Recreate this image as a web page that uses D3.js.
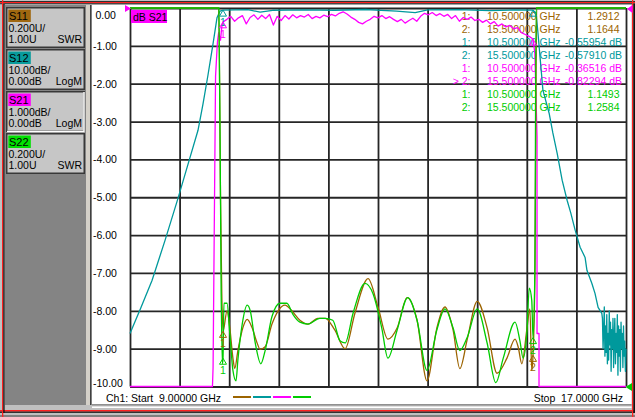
<!DOCTYPE html>
<html><head><meta charset="utf-8">
<script src="https://cdn.jsdelivr.net/npm/d3@7"></script>
<style>
html,body{margin:0;padding:0;background:#c0c0c0;overflow:hidden}
svg{display:block;font-family:"Liberation Sans",Arial,sans-serif;}
</style></head>
<body><svg id="c" width="635" height="417"></svg>
<script>
// ---------------- data ----------------
const startGHz = 9, stopGHz = 17;
const xGrid = [9, 9.8, 10.6, 11.4, 12.2, 13.0, 13.8, 14.6, 15.4, 16.2, 17];
const yTicks = [0, -1, -2, -3, -4, -5, -6, -7, -8, -9, -10];
const yTickLabels = ["0.00", "-1.00", "-2.00", "-3.00", "-4.00", "-5.00", "-6.00", "-7.00", "-8.00", "-9.00", "-10.00"];

const channels = ["S11", "S12", "S21", "S22"];
const channelScale = ["0.200U/", "10.00dB/", "1.000dB/", "0.200U/"];
const channelRef = ["1.00U", "0.00dB", "0.00dB", "1.00U"];
const channelFormat = ["SWR", "LogM", "LogM", "SWR"];

// S11 (SWR)  [GHz, SWR]
const s11 = [[9.0,4],[10.43,4],[10.46,2.0],[10.48,1.5],[10.5,1.291],[10.565,1.40],[10.61,1.31],[10.66,1.15],
  [10.69,1.095],[10.74,1.19],[10.82,1.31],[10.89,1.355],[10.97,1.31],[11.05,1.23],[11.10,1.196],[11.18,1.21],
  [11.29,1.33],[11.39,1.40],[11.50,1.43],[11.61,1.40],[11.74,1.35],[11.87,1.33],[12.03,1.36],[12.15,1.36],
  [12.30,1.30],[12.47,1.20],[12.63,1.39],[12.84,1.57],[13.00,1.42],[13.16,1.25],[13.31,1.31],[13.47,1.47],
  [13.63,1.35],[13.79,1.03],[13.95,1.31],[14.08,1.42],[14.21,1.30],[14.32,1.095],[14.44,1.25],[14.60,1.45],
  [14.76,1.31],[14.92,1.07],[15.08,1.15],[15.21,1.25],[15.26,1.21],[15.32,1.12],[15.40,1.30],[15.45,1.41],
  [15.48,1.085],[15.50,1.164],[15.53,1.58],[15.56,4],[17.0,4]];

// S12 (dB, 10 dB/div)
const s12 = [[9.00,-86.0],[9.177,-79.1],[9.355,-72.0],[9.565,-61.4],[9.774,-50.3],[9.935,-41.3],[10.097,-32.3],
  [10.177,-25.4],[10.258,-17.7],[10.339,-9.5],[10.403,-2.6],[10.452,-0.8],[10.5,-0.56],[10.9,-0.45],[11.1,-1.1],
  [11.3,-0.6],[11.8,-0.5],[12.3,-0.6],[12.8,-0.4],[13.3,-0.8],[13.6,-1.2],[13.8,-0.5],[14.3,-0.45],[14.8,-0.7],
  [15.2,-0.5],[15.5,-0.58],[15.55,-1.3],[15.58,-6.6],[15.66,-21.7],[15.76,-27.8],[15.82,-33],[15.89,-38.4],
  [15.97,-45.5],[16.05,-50.8],[16.11,-54.2],[16.18,-58.7],[16.26,-63.2],[16.34,-65.9],[16.37,-69.3],[16.45,-72.8],
  [16.50,-75.4],[16.55,-79.1],[16.61,-80.7],[16.62,-82],[16.63,-90],[16.64,-85],[16.65,-79],[16.66,-92],[16.67,-84],
  [16.68,-91],[16.69,-81],[16.70,-94],[16.71,-86],[16.72,-93],[16.73,-80],[16.74,-89],[16.75,-83],[16.76,-96],
  [16.77,-85],[16.78,-90],[16.79,-82],[16.80,-95],[16.81,-87],[16.82,-82],[16.83,-94],[16.84,-86],[16.85,-91],
  [16.86,-81],[16.87,-97],[16.88,-84],[16.89,-92],[16.90,-85],[16.91,-96],[16.92,-83],[16.93,-90],[16.94,-86],
  [16.95,-95],[16.96,-84],[16.97,-92],[16.98,-88],[16.99,-96],[17.00,-90]];

// S21 (dB, 1 dB/div)
const s21 = [[9.0,-12],[10.33,-12],[10.34,-9.5],[10.38,-1.8],[10.41,-0.9],[10.43,-0.65],[10.46,-0.85],[10.48,-0.5],
  [10.5,-0.37],[10.5625,-0.30],[10.625,-0.22],[10.6875,-0.35],[10.75,-0.26],[10.8125,-0.20],[10.875,-0.42],
  [10.9375,-0.25],[11.0,-0.18],[11.0625,-0.30],[11.125,-0.19],[11.1875,-0.28],[11.25,-0.17],[11.3125,-0.45],
  [11.375,-0.22],[11.4375,-0.33],[11.5,-0.20],[11.5625,-0.29],[11.625,-0.18],[11.6875,-0.26],[11.75,-0.20],
  [11.8125,-0.24],[11.875,-0.17],[11.9375,-0.28],[12.0,-0.22],[12.0625,-0.26],[12.125,-0.19],[12.1875,-0.23],
  [12.25,-0.17],[12.3125,-0.21],[12.375,-0.14],[12.4375,-0.10],[12.5,-0.16],[12.5625,-0.24],[12.625,-0.30],
  [12.6875,-0.38],[12.75,-0.42],[12.8125,-0.35],[12.875,-0.30],[12.9375,-0.22],[13.0,-0.26],[13.0625,-0.20],
  [13.125,-0.28],[13.1875,-0.23],[13.25,-0.30],[13.3125,-0.36],[13.375,-0.30],[13.4375,-0.40],[13.5,-0.33],
  [13.5625,-0.27],[13.625,-0.35],[13.6875,-0.22],[13.75,-0.14],[13.8125,-0.18],[13.875,-0.12],[13.9375,-0.20],
  [14.0,-0.15],[14.0625,-0.22],[14.125,-0.17],[14.1875,-0.28],[14.25,-0.20],[14.3125,-0.35],[14.375,-0.25],
  [14.4375,-0.30],[14.5,-0.24],[14.5625,-0.33],[14.625,-0.30],[14.6875,-0.38],[14.75,-0.32],[14.8125,-0.42],
  [14.875,-0.36],[14.9375,-0.48],[15.0,-0.42],[15.0625,-0.50],[15.125,-0.46],[15.1875,-0.55],[15.25,-0.52],
  [15.3125,-0.65],[15.375,-0.70],[15.4375,-0.75],[15.5,-0.82],[15.53,-1.2],[15.565,-3.4],[15.565,-8.6],
  [15.597,-8.6],[15.597,-12],[17.0,-12]];

// S22 (SWR)
const s22 = [[9.0,4],[10.435,4],[10.47,1.5],[10.49,1.12],[10.5,1.149],[10.515,1.44],[10.565,1.44],[10.61,1.28],
  [10.66,1.085],[10.71,1.03],[10.74,1.14],[10.81,1.33],[10.89,1.43],[10.94,1.40],[11.02,1.23],[11.11,1.12],
  [11.18,1.19],[11.29,1.37],[11.42,1.44],[11.53,1.44],[11.63,1.38],[11.74,1.34],[11.87,1.33],[12.06,1.36],
  [12.15,1.36],[12.27,1.35],[12.39,1.24],[12.47,1.23],[12.60,1.39],[12.79,1.545],[12.92,1.49],[13.06,1.31],
  [13.16,1.15],[13.31,1.30],[13.48,1.47],[13.63,1.35],[13.79,1.085],[13.95,1.30],[14.08,1.41],[14.21,1.31],
  [14.32,1.19],[14.44,1.26],[14.60,1.41],[14.76,1.23],[14.90,1.02],[15.02,1.15],[15.21,1.34],[15.29,1.24],
  [15.34,1.15],[15.40,1.28],[15.44,1.52],[15.48,1.455],[15.50,1.258],[15.53,1.61],[15.55,4],[17.0,4]];

const markerGHz = [10.5, 15.5];
const markerTrace = ["S11", "S11", "S12", "S12", "S21", "S21", "S22", "S22"];
const markerLabel = ["1:", "2:", "1:", "2:", "1:", "> 2:", "1:", "2:"];
const markerFreq = ["10.500000 GHz", "15.500000 GHz", "10.500000 GHz", "15.500000 GHz",
                    "10.500000 GHz", "15.500000 GHz", "10.500000 GHz", "15.500000 GHz"];
const markerValue = ["1.2912", "1.1644", "-0.55954 dB", "-0.57910 dB", "-0.36516 dB", "-0.82294 dB", "1.1493", "1.2584"];

const startLabel = "Ch1: Start  9.00000 GHz";
const stopLabel = "Stop  17.0000 GHz";

// ---------------- drawing ----------------
const color = {S11: "#9c6400", S12: "#00999c", S21: "#ff00ff", S22: "#00cc00"};
const tagColor = {S11: "#a06810", S12: "#089c9c", S21: "#ff00ff", S22: "#00e000"};
const FS = "10.5px";

const svg = d3.select("#c");
const x = d3.scaleLinear().domain([startGHz, stopGHz]).range([130, 626]);
const yDb21 = d3.scaleLinear().domain([-10, 0]).range([386.5, 8]).clamp(true);
const yDb12 = d3.scaleLinear().domain([-100, 0]).range([386.5, 8]).clamp(true);
const ySwr = d3.scaleLinear().domain([1, 3]).range([386.5, 8]).clamp(true);
const yOf = {S11: ySwr, S12: yDb12, S21: yDb21, S22: ySwr};
const dataOf = {S11: s11, S12: s12, S21: s21, S22: s22};

// window frame
svg.append("rect").attr("width", 635).attr("height", 417).attr("fill", "#c0c0c0");
const band = (x0, y0, w, h, c) => svg.append("rect").attr("x", x0).attr("y", y0).attr("width", w).attr("height", h).attr("fill", c);
band(0, 1, 635, 1, "#303030");
band(0, 2, 635, 1.2, "#ff2020");
band(0, 3.2, 635, 1, "#303030");
band(0, 410, 635, 1.6, "#ff2020");
band(0, 411.6, 635, 1.2, "#101010");
band(0, 415, 635, 2, "#808080");
band(2, 0, 1.3, 417, "#ff2020");
band(3.3, 4, 1.3, 409, "#101010");
band(632, 0, 1.3, 417, "#ff2020");
band(633.3, 4, 1.7, 409, "#101010");
// left panel
band(5, 5, 81, 400, "#848484");
band(86, 5, 4, 400, "#d4d0c8");
band(90, 5, 1.5, 400, "#404040");
// plot panel
band(92, 5, 539.5, 399, "#ffffff");
band(92, 404, 539.5, 1.5, "#909090");
band(92, 406.5, 539.5, 1.5, "#ffffff");

// channel buttons
const btnTop = [7, 49, 91, 133];
const btn = svg.append("g").selectAll("g").data(channels).join("g")
  .attr("transform", (d, i) => `translate(0,${btnTop[i]})`);
btn.append("rect").attr("x", 6.75).attr("y", 0.75).attr("width", 77.5).attr("height", 39.5)
  .attr("fill", "#c6c6c6").attr("stroke", "#383838").attr("stroke-width", 1.5);
btn.filter(d => d === "S21").append("path").attr("d", "M84,1 V40.5 H7").attr("fill", "none")
  .attr("stroke", "#ffffff").attr("stroke-width", 1.5);
btn.append("rect").attr("x", 8.3).attr("y", 2.5).attr("width", 22.5).attr("height", 12.5)
  .attr("fill", d => tagColor[d]);
btn.append("text").attr("x", 9).attr("y", 13).attr("font-size", "11px").attr("fill", "#000").text(d => d);
btn.append("text").attr("x", 8.5).attr("y", 25).attr("font-size", FS).text((d, i) => channelScale[i]);
btn.append("text").attr("x", 8.5).attr("y", 36).attr("font-size", FS).text((d, i) => channelRef[i]);
btn.append("text").attr("x", 82).attr("y", 36).attr("font-size", FS).attr("text-anchor", "end").text((d, i) => channelFormat[i]);

// grid via axes
const gridColor = "#262626";
svg.append("g").attr("transform", "translate(0,386.5)")
  .call(d3.axisBottom(x).tickValues(xGrid).tickSize(-378.5).tickFormat(""))
  .call(a => a.select(".domain").remove())
  .selectAll("line").attr("stroke", gridColor).attr("stroke-width", 1.8);
svg.append("g").attr("transform", "translate(130,0)")
  .call(d3.axisLeft(yDb21).tickValues(yTicks).tickSize(-496).tickFormat(""))
  .call(a => a.select(".domain").remove())
  .selectAll("line").attr("stroke", gridColor).attr("stroke-width", 1.8);

// y labels
svg.append("g").selectAll("text").data(yTicks).join("text")
  .attr("x", d => d === 0 ? 95.5 : 93)
  .attr("y", d => yDb21(d) + (d === 0 ? 11 : d === -10 ? 0.5 : 4))
  .attr("font-size", FS).attr("fill", "#000")
  .text((d, i) => yTickLabels[i]);

// marker table
const rows = svg.append("g").selectAll("g").data(markerTrace).join("g")
  .attr("transform", (d, i) => `translate(0,${19.5 + i * 13})`)
  .attr("fill", d => color[d]).attr("font-size", FS);
rows.append("text").attr("x", 470.5).attr("text-anchor", "end").style("white-space", "pre").text((d, i) => markerLabel[i]);
rows.append("text").attr("x", 487).text((d, i) => markerFreq[i]);
rows.append("text").attr("x", (d, i) => markerValue[i].endsWith("dB") ? 622 : 619.5)
  .attr("text-anchor", "end").text((d, i) => markerValue[i]);

// traces
svg.append("clipPath").attr("id", "pc").append("rect").attr("x", 129).attr("y", 6.5).attr("width", 498).attr("height", 381.5);
const traces = svg.append("g").attr("clip-path", "url(#pc)");
["S12", "S21", "S11", "S22"].forEach(k => {
  const ys = yOf[k];
  const curve = (k === "S11" || k === "S22") ? d3.curveMonotoneX : d3.curveLinear;
  traces.append("path").datum(dataOf[k])
    .attr("d", d3.line().x(d => x(d[0])).y(d => ys(d[1])).curve(curve))
    .attr("fill", "none").attr("stroke", color[k]).attr("stroke-width", 1.3)
    .attr("stroke-linejoin", "round");
});

// trace markers (triangle with tip at value, number below)
const mk = svg.append("g");
markerTrace.forEach((k, i) => {
  const f = markerGHz[i % 2];
  const v = parseFloat(markerValue[i]);
  const px = x(f), py = yOf[k](v);
  mk.append("path").attr("d", `M${px},${py} l-3.5,6 h7 z`).attr("fill", "none")
    .attr("stroke", color[k]).attr("stroke-width", 1);
  const nearTable = (i % 2 === 1) && (k === "S12" || k === "S21");
  if (!nearTable) {
    mk.append("text").attr("x", px).attr("y", py + 16).attr("text-anchor", "middle")
      .attr("font-size", FS).attr("fill", color[k]).text(String(i % 2 + 1));
  }
});

// reference markers
svg.append("path").attr("d", "M125,5 L131,8.5 L125,12 Z").attr("fill", "#ff00ff");
svg.append("path").attr("d", "M627,9 L632.5,5 L632.5,13 Z").attr("fill", "#ff00ff");
svg.append("path").attr("d", "M625.5,387 L632,383 L632,391 Z").attr("fill", "#00cc00");

// trace title box
svg.append("rect").attr("x", 131).attr("y", 10).attr("width", 36).attr("height", 13).attr("fill", "#ff00ff");
svg.append("text").attr("x", 133).attr("y", 21).attr("font-size", FS).attr("fill", "#000").text("dB S21");

// bottom annotation
svg.append("text").attr("x", 106).attr("y", 402).attr("font-size", FS).style("white-space", "pre").text(startLabel);
svg.append("text").attr("x", 623).attr("y", 402).attr("font-size", FS).attr("text-anchor", "end").style("white-space", "pre").text(stopLabel);
svg.append("g").selectAll("line").data(channels).join("line")
  .attr("x1", (d, i) => 233 + i * 20).attr("x2", (d, i) => 251 + i * 20)
  .attr("y1", 397).attr("y2", 397).attr("stroke", d => color[d]).attr("stroke-width", 2);
</script>
</body></html>
